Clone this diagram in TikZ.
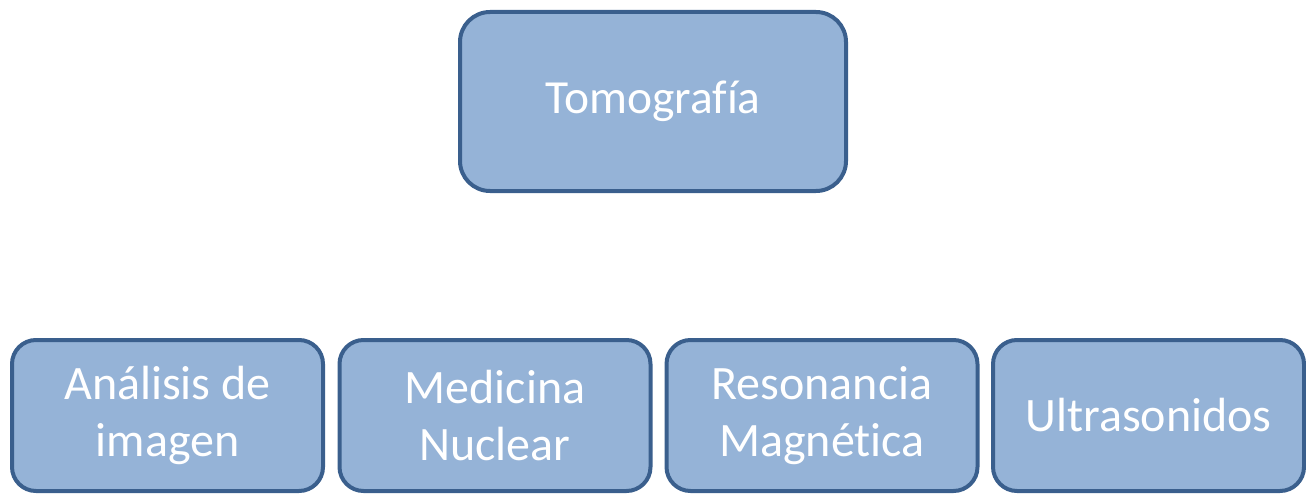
\documentclass[tikz,border=0pt]{standalone}
\usepackage{fontspec}
\setmainfont{Carlito}[Ligatures={NoCommon,NoContextual}]
\definecolor{boxfill}{HTML}{95B3D7}
\definecolor{boxline}{HTML}{3A5F8D}
\begin{document}
\begin{tikzpicture}[x=1pt,y=-1pt,
  topbox/.style={draw=boxline, fill=boxfill, line width=4pt, rounded corners=30pt,
    minimum width=386pt, minimum height=179pt, inner sep=0pt, text=white,
    font=\fontsize{47.5}{57}\selectfont, align=center},
  leafbox/.style={draw=boxline, fill=boxfill, line width=4pt, rounded corners=24pt,
    minimum width=311pt, minimum height=151pt, inner sep=0pt, text=white,
    font=\fontsize{48}{57}\selectfont, align=center}]
\useasboundingbox (0,0) rectangle (1306,495);
\node[topbox] (tomo) at (653,101.5) {Tomografía};
\node[leafbox] (ana) at (167.5,415.5) {Análisis de\\imagen};
\node[leafbox] (med) at (495,415.5) {Medicina\\Nuclear};
\node[leafbox] (res) at (822,415.5) {Resonancia\\Magnética};
\node[leafbox] (ult) at (1148.5,415.5) {Ultrasonidos};
\end{tikzpicture}
\end{document}
